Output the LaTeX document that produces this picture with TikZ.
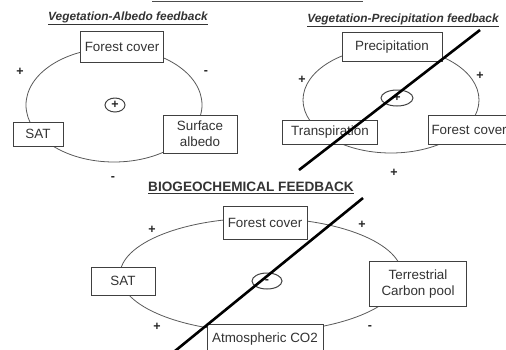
\documentclass[tikz,border=0pt]{standalone}
\usepackage{fontspec}
\setmainfont{Liberation Sans}
\begin{document}
\begin{tikzpicture}[x=1pt,y=-1pt,
  box/.style={draw=black!75,line width=1pt,fill=white,inner sep=1pt,font=\fontsize{13.4}{16}\selectfont,text=black!80,align=center},
  loop/.style={draw=black!65,line width=0.8pt},
  sign/.style={font=\fontsize{12.5}{12}\selectfont\bfseries,text=black!85,inner sep=0pt},
  ttl/.style={font=\fontsize{11.9}{13}\selectfont\bfseries\itshape,text=black!80,inner sep=0pt},
  slash/.style={draw=black,line width=2.6pt},
  mini/.style={draw=black!75,line width=1pt}
]
\useasboundingbox (0,0) rectangle (506,349);
\clip (0,0) rectangle (506,349);
% top cut-off title underline
\coordinate (tl) at (152,1);
\coordinate (tr) at (363,1);
\draw[black!70,line width=0.8pt] (tl) -- (tr);

% ---------------- Panel 1 ----------------
\node[ttl] (t1) at (128,18) {\underline{Vegetation-Albedo feedback}};
\draw[loop] (114,105) ellipse [x radius=88,y radius=57];
\node[box,minimum width=83,minimum height=31] (fc1) at (122,47) {Forest cover};
\node[box,minimum width=50,minimum height=24] (sat1) at (38,134) {SAT};
\node[box,minimum width=74,minimum height=38,font=\fontsize{13.4}{16}\selectfont] (alb1) at (200,134) {Surface\\albedo};
\draw[mini] (115,105) ellipse [x radius=10,y radius=7];
\node[sign] (m1) at (115,105) {+};
\node[sign] (s1a) at (20,72) {+};
\node[sign] (s1b) at (206,73) {-};
\node[sign] (s1c) at (113,179) {-};

% ---------------- Panel 2 ----------------
\node[ttl] (t2) at (403,20) {\underline{Vegetation-Precipitation feedback}};
\draw[loop] (391,100) ellipse [x radius=88,y radius=53];
\node[box,minimum width=100,minimum height=29] (prec) at (392,47) {Precipitation};
\node[box,minimum width=95,minimum height=24] (trans) at (330,132) {Transpiration};
\node[box,minimum width=90,minimum height=29,anchor=west,text width=84,align=left] (fc2) at (428,130) {Forest cover};
\draw[mini] (397,98) ellipse [x radius=16,y radius=8];
\node[sign] (m2) at (397,98) {+};
\node[sign] (s2a) at (302,80) {+};
\node[sign] (s2b) at (480,76) {+};
\node[sign] (s2c) at (394,173) {+};
\coordinate (d2a) at (299,170);
\coordinate (d2b) at (480,30);
\draw[slash] (d2a) -- (d2b);

% ---------------- Panel 3 ----------------
\node[font=\fontsize{13.6}{15}\selectfont\bfseries,text=black!80,inner sep=0pt] (t3) at (251,188) {\underline{BIOGEOCHEMICAL FEEDBACK}};
\draw[loop] (261,275) ellipse [x radius=141,y radius=57];
\node[box,minimum width=84,minimum height=33] (fc3) at (265,223) {Forest cover};
\node[box,minimum width=64,minimum height=28] (sat3) at (123,281) {SAT};
\node[box,minimum width=97,minimum height=45,font=\fontsize{13.4}{16}\selectfont] (tcp) at (418,284) {Terrestrial\\Carbon pool};
\node[box,minimum width=116,minimum height=30] (co2) at (265,339) {Atmospheric CO2};
\draw[mini] (267,281) ellipse [x radius=15,y radius=8];
\node[sign] (m3) at (267,281) {-};
\node[sign] (s3a) at (152,230) {+};
\node[sign] (s3b) at (362,225) {+};
\node[sign] (s3c) at (157,327) {+};
\node[sign] (s3d) at (370,327) {-};
\coordinate (d3a) at (175,351);
\coordinate (d3b) at (363,198);
\draw[slash] (d3a) -- (d3b);
\end{tikzpicture}
\end{document}
